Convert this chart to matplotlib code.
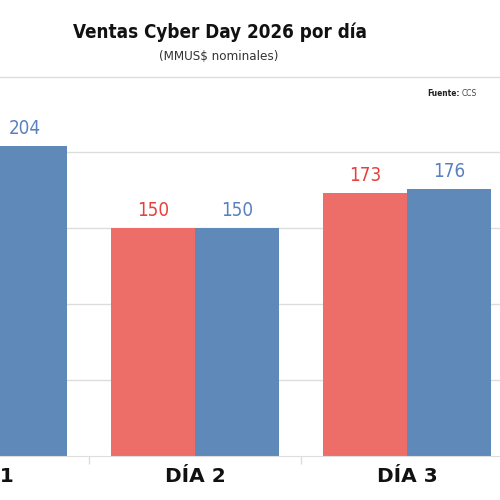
import matplotlib
matplotlib.use('Agg')
import matplotlib.pyplot as plt
import matplotlib.transforms as mtransforms
import numpy as np

dias = ['DÍA 1', 'DÍA 2', 'DÍA 3']
ventas_rojo = [190, 150, 173]   # dia 1 fuera del recorte, estimado
ventas_azul = [204, 150, 176]

rojo = '#ED6D68'
azul = '#5E89B9'
rojo_txt = '#E5413D'
azul_txt = '#5A80C0'
narrow = ['DejaVu Sans']


def main():
   fig = plt.figure(figsize=(5, 5), dpi=100)
   ax = fig.add_axes([0, 0.088, 1, 0.762])

   x = np.arange(len(dias))
   w = 0.397
   b1 = ax.bar(x - w / 2, ventas_rojo, w, color=rojo, zorder=2)
   b2 = ax.bar(x + w / 2, ventas_azul, w, color=azul, zorder=2)

   for bars, col in ((b1, rojo_txt), (b2, azul_txt)):
      for r in bars:
         ax.annotate('%d' % r.get_height(),
                     (r.get_x() + r.get_width() / 2, r.get_height()),
                     xytext=(0, 6), textcoords='offset points',
                     ha='center', va='bottom', fontsize=13.5, color=col,
                     family=narrow, stretch='condensed')

   ax.set_yticks([50, 100, 150, 200, 250])
   ax.yaxis.grid(True, color='#dddddd', lw=1, zorder=0)
   ax.tick_params(axis='y', left=False, labelleft=False)

   # etiquetas de categoria a mano: la de DIA 1 queda fuera de los limites
   ax.set_xticks([])
   ax.set_xticks([0.5, 1.5], minor=True)
   ax.tick_params(axis='x', which='minor', length=6, color='#dddddd', width=1)
   trans = mtransforms.blended_transform_factory(ax.transData, ax.transAxes)
   for xi, d in zip(x, dias):
      ax.text(xi, -0.055, d, transform=trans, ha='center', va='center',
              fontsize=14.5, fontweight='bold', color='#111111', clip_on=False)

   ax.set_xlim(0.080, 2.439)
   ax.set_ylim(0, 251)

   for s in ('top', 'left', 'right'):
      ax.spines[s].set_visible(False)
   ax.spines['bottom'].set_color('#dddddd')

   fig.text(0.44, 0.936, 'Ventas Cyber Day 2026 por día', ha='center', va='center',
            fontsize=13.5, fontweight='bold', family=narrow, stretch='condensed',
            color='#111111')
   fig.text(0.438, 0.886, '(MMUS$ nominales)', ha='center', va='center',
            fontsize=9.5, family=narrow, stretch='condensed', color='#333333')
   fig.text(0.92, 0.812, 'Fuente:', ha='right', va='center', fontsize=6,
            fontweight='bold', family=narrow, stretch='condensed', color='#222222')
   fig.text(0.924, 0.812, 'CCS', ha='left', va='center', fontsize=6,
            family=narrow, stretch='condensed', color='#444444')

   fig.savefig('out.png', dpi=100)


if __name__ == '__main__':
   main()
